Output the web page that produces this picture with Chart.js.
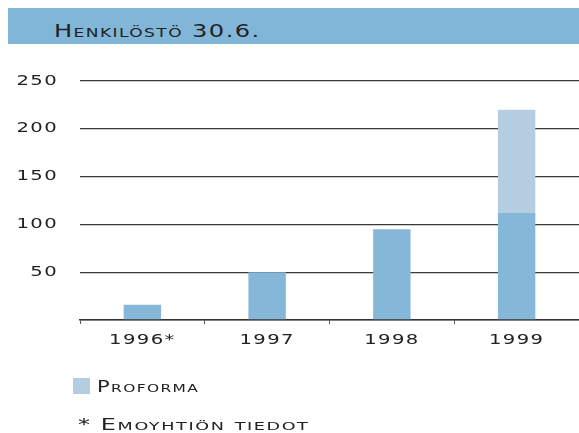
<!DOCTYPE html>
<html>
<head>
<meta charset="utf-8">
<script src="https://cdn.jsdelivr.net/npm/chart.js@4.4.0/dist/chart.umd.min.js"></script>
<style>
  html, body { margin: 0; padding: 0; background: #fff; }
  body { width: 579px; height: 433px; position: relative; overflow: hidden; font-family: 'DejaVu Sans', sans-serif; color: #222; }
  .wide { position: absolute; display: inline-block; white-space: nowrap; font-variant: small-caps; letter-spacing: 1px; transform-origin: 0 0; }
  #header { position: absolute; left: 8px; top: 8px; width: 571px; height: 36px; background: #82b6d8; }
  #title { left: 46px; top: 13px; font-size: 17px; line-height: 20px; transform: scaleX(1.42); }
  #wrap { position: absolute; left: 0; top: 0; width: 579px; height: 433px; }
  #legendBox { position: absolute; left: 73px; top: 378px; width: 17px; height: 16px; background: #b5cde0; }
  #legendText { left: 97px; top: 379px; font-size: 15px; line-height: 16px; transform: scaleX(1.4); }
  #note { left: 78px; top: 417px; font-size: 15px; line-height: 16px; transform: scaleX(1.6); }
</style>
</head>
<body>
<div id="header"><span id="title" class="wide">Henkilöstö 30.6.</span></div>
<div id="wrap"><canvas id="chart"></canvas></div>
<div id="legendBox"></div>
<span id="legendText" class="wide">Proforma</span>
<span id="note" class="wide">* Emoyhtiön tiedot</span>
<script>
// values (persons, 30 June)
const years = ['1996*', '1997', '1998', '1999'];
const staff = [16, 50, 95, 112];
const proforma = [0, 0, 0, 108];   // stacked on top of staff -> 220 in 1999
const yTicks = [50, 100, 150, 200, 250];

// the original uses an extended typeface: stretch canvas text horizontally
const wideText = {
    id: 'wideText',
    beforeDraw(chart) {
        const c = chart.ctx;
        c.letterSpacing = '1px';
        if (c._wide) return;
        const orig = c.fillText;
        c.fillText = function (t, x, y) {
            this.save();
            this.translate(x, y);
            this.scale(1.4, 1);
            orig.call(this, t, 0, 0);
            this.restore();
        };
        c._wide = true;
    }
};

const ctx = document.getElementById('chart').getContext('2d');
new Chart(ctx, {
    type: 'bar',
    data: {
        labels: years,
        datasets: [{
            label: 'Henkilöstö',
            data: staff,
            backgroundColor: '#84b7d8',
            borderWidth: 0
        }, {
            label: 'Proforma',
            data: proforma,
            backgroundColor: '#b5cde0',
            borderWidth: 0
        }]
    },
    options: {
        responsive: true,
        maintainAspectRatio: false,
        animation: false,
        layout: {
            padding: { top: 81, right: 0, bottom: 73, left: 0 }
        },
        plugins: {
            legend: { display: false },
            tooltip: { enabled: false }
        },
        datasets: {
            bar: { categoryPercentage: 1, barPercentage: 0.3 }
        },
        scales: {
            x: {
                stacked: true,
                afterFit(scale) { scale.height = 40; },
                grid: {
                    offset: true,
                    drawOnChartArea: false,
                    drawTicks: true,
                    tickLength: 4,
                    color: '#555'
                },
                border: { display: true, color: '#333', width: 1.5 },
                ticks: {
                    color: '#222',
                    padding: 8,
                    font: { family: 'DejaVu Sans', size: 14 }
                }
            },
            y: {
                stacked: true,
                min: 0,
                max: 250,
                afterFit(scale) { scale.width = 80; },
                afterBuildTicks(scale) {
                    scale.ticks = [0].concat(yTicks).map(v => ({ value: v }));
                },
                grid: {
                    drawTicks: false,
                    color: '#3a3a3a',
                    lineWidth: 1.3
                },
                border: { display: false },
                ticks: {
                    color: '#222',
                    padding: 22,
                    font: { family: 'DejaVu Sans', size: 14 },
                    callback: v => (v === 0 ? '' : v)
                }
            }
        }
    },
    plugins: [wideText]
});
</script>
</body>
</html>
